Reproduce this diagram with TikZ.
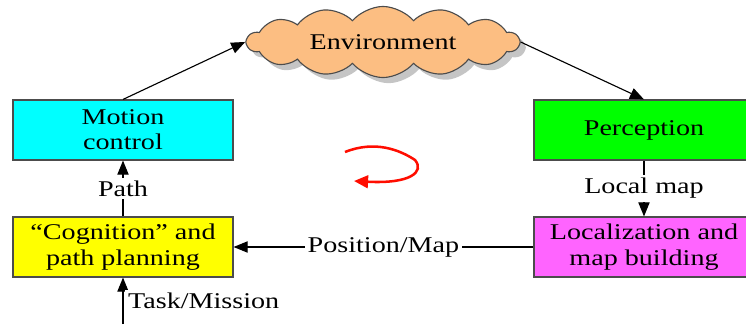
\documentclass[tikz,border=0pt]{standalone}
\usepackage{fontspec}
\setmainfont{Liberation Serif}[FakeStretch=1.25]
\usetikzlibrary{shapes.symbols,shadows,arrows.meta}
\tikzset{
  block/.style = {draw = black!70, line width = 0.8pt, minimum width = 5.5cm, minimum height = 1.5cm, align = center, font = \fontsize{16}{18}\selectfont},
  flow/.style = {draw = black, line width = 0.8pt, -{Triangle[length = 10pt, width = 8pt]}},
  tag/.style = {fill = white, inner sep = 2pt, font = \fontsize{16}{18}\selectfont}
}
\begin{document}
\begin{tikzpicture}[x = 0.025cm, y = -0.025cm]
\pgfmathsetmacro\lx{123};
\pgfmathsetmacro\rx{644};
\useasboundingbox (0,0) rectangle (746,324);
\definecolor{cloudcolor}{RGB}{252,190,130}
\definecolor{loccolor}{RGB}{255,100,255}
\definecolor{motioncolor}{RGB}{0,255,255}
\definecolor{cogcolor}{RGB}{255,255,0}
\definecolor{percolor}{RGB}{0,255,0}
\node[cloud, cloud puffs = 14, cloud puff arc = 100, aspect = 4.2, draw = black!70, line width = 0.8pt, fill = cloudcolor, drop shadow = {shadow xshift = 4pt, shadow yshift = -4pt, fill = black!45}, minimum width = 6.8cm, minimum height = 1.65cm, inner sep = 1pt, font = \fontsize{16}{18}\selectfont] (env) at (383,42) {Environment};
\node[block, fill = motioncolor] (motion) at (\lx,130) {Motion\\control};
\node[block, fill = cogcolor] (cognition) at (\lx,247) {``Cognition'' and\\path planning};
\node[block, fill = percolor] (perception) at (\rx,130) {Perception};
\node[block, fill = loccolor] (localization) at (\rx,247) {Localization and\\map building};
\coordinate (task) at (\lx,324);
\draw[flow] (motion.north) -- (env.west);
\draw[flow] (env.east) -- (perception.north);
\draw[flow] (perception) -- node[tag] (localmap) {Local map} (localization);
\draw[flow] (localization) -- node[tag] (posmap) {Position/Map} (cognition);
\draw[flow] (cognition) -- node[tag] (path) {Path} (motion);
\draw[flow] (task) -- (cognition.south);
\node[tag, anchor = west] (mission) at (\lx+2,301) {Task/Mission};
\draw[draw = red!90!orange, line width = 1.8pt, -{Triangle[length = 10pt, width = 9pt]}] (345,152) .. controls (375,140) and (400,150) .. (415,160) .. controls (425,172) and (410,184) .. (354,181);
\end{tikzpicture}
\end{document}
